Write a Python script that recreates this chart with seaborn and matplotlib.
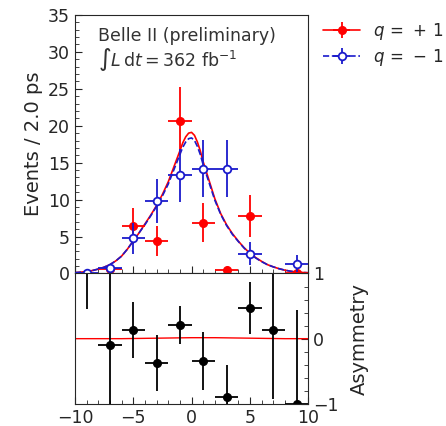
import numpy as np
import pandas as pd
import matplotlib
matplotlib.use("Agg")
import matplotlib.pyplot as plt
import seaborn as sns

# bin centres (2 ps bins)
bins = [-9, -7, -5, -3, -1, 1, 3, 5, 7, 9]

# q = +1 data (nan = no entry drawn)
plus_vals = [np.nan, 0.6, 6.4, 4.4, 20.7, 6.9, 0.45, 7.8, np.nan, 0.0]
plus_errs = [0.0, 0.0, 2.4, 2.0, 4.5, 2.7, 0.0, 2.8, 0.0, 0.0]

# q = -1 data
minus_vals = [0.0, 0.8, 4.8, 9.8, 13.3, 14.2, 14.2, 2.7, np.nan, 1.35]
minus_errs = [0.0, 0.0, 2.1, 3.0, 3.6, 3.9, 3.9, 1.6, 0.0, 1.1]

# fit curves
fit_t = [-10, -9.5, -9, -8.5, -8, -7.5, -7, -6.5, -6, -5.5, -5, -4.5, -4, -3.5,
         -3, -2.5, -2, -1.5, -1, -0.75, -0.5, -0.25, 0, 0.25, 0.5, 0.75, 1, 1.5, 2, 2.5,
         3, 3.5, 4, 4.5, 5, 5.5, 6, 6.5, 7, 7.5, 8, 8.5, 9, 9.5, 10]
fit_plus = [0.12, 0.18, 0.27, 0.4, 0.6, 0.85, 1.2, 1.7, 2.35, 3.3, 4.4, 5.5, 6.7, 7.9,
            9.2, 10.7, 12.4, 14.5, 16.6, 17.7, 18.5, 19.0, 19.1, 18.7, 17.8, 16.6, 15.1, 12.6, 10.1, 8.1,
            6.6, 5.4, 4.4, 3.5, 2.75, 2.15, 1.65, 1.2, 0.9, 0.65, 0.45, 0.3, 0.2, 0.14, 0.1]
fit_minus = [0.12, 0.18, 0.27, 0.4, 0.6, 0.85, 1.2, 1.7, 2.35, 3.3, 4.4, 5.5, 6.6, 7.8,
             9.1, 10.5, 12.1, 14.1, 16.1, 17.1, 17.8, 18.25, 18.35, 18.0, 17.2, 16.1, 14.7, 12.3, 9.9, 8.0,
             6.5, 5.3, 4.35, 3.45, 2.7, 2.1, 1.6, 1.2, 0.9, 0.65, 0.45, 0.3, 0.2, 0.14, 0.1]

# asymmetry
asym_vals = [1.1, -0.1, 0.13, -0.38, 0.21, -0.34, -0.9, 0.47, 0.13, -1.0]
asym_errs = [0.65, 1.3, 0.43, 0.43, 0.29, 0.44, 0.5, 0.4, 1.05, 1.44]
asym_t = [-10, -8, -6, -4, -2, 0, 2, 4, 6, 8, 10]
asym_fit = [0.0, 0.0, 0.0, 0.005, 0.01, 0.015, 0.015, 0.01, 0.005, 0.0, 0.0]

RED = "#ff0000"
BLUE = "#1a1acc"

sns.set_style("ticks")
plt.rcParams["font.family"] = ["DejaVu Sans"]
plt.rcParams["xtick.direction"] = "in"
plt.rcParams["ytick.direction"] = "in"

fig = plt.figure(figsize=(4.46, 4.26), dpi=100)
ax = fig.add_axes([0.168, 0.358, 0.523, 0.607])
ax2 = fig.add_axes([0.168, 0.052, 0.523, 0.306], sharex=ax)

fit_df = pd.DataFrame({"t": fit_t, "plus": fit_plus, "minus": fit_minus})
sns.lineplot(data=fit_df, x="t", y="plus", ax=ax, color=RED, lw=1.2)
sns.lineplot(data=fit_df, x="t", y="minus", ax=ax, color=BLUE, lw=1.2, linestyle="--")
l_plus = ax.lines[0]
l_minus = ax.lines[1]

eb_plus = ax.errorbar(bins, plus_vals, xerr=1, yerr=plus_errs, fmt="o", color=RED,
                      ms=5.5, elinewidth=1.3, capsize=0, zorder=3)
eb_minus = ax.errorbar(bins, minus_vals, xerr=1, yerr=minus_errs, fmt="o", color=BLUE,
                       mfc="white", mec=BLUE, mew=1.3, ms=5.5, elinewidth=1.3, capsize=0, zorder=4)

ax.set_xlim(-10, 10)
ax.set_ylim(0, 35)
ax.set_yticks(range(0, 36, 5))
ax.set_yticks(range(0, 36, 1), minor=True)
ax.set_xticks(range(-10, 11, 5))
ax.set_xticks(range(-10, 11, 1), minor=True)
ax.tick_params(axis="x", labelbottom=False, length=5)
ax.tick_params(axis="x", which="minor", length=3)
ax.tick_params(axis="y", labelsize=12.5, length=5)
ax.tick_params(axis="y", which="minor", length=3)
ax.set_xlabel("")
ax.set_ylabel("Events / 2.0 ps", fontsize=14)

ax.text(0.1, 0.955, "Belle II (preliminary)", transform=ax.transAxes,
        fontsize=12.5, va="top", color="#333333")
ax.text(0.1, 0.878, r"$\int L\,\mathrm{d}t = 362\ \mathrm{fb}^{-1}$", transform=ax.transAxes,
        fontsize=12.5, va="top", color="#333333")

ax.legend(handles=[(l_plus, eb_plus), (l_minus, eb_minus)],
          labels=[r"$q\,=\,+\,1$", r"$q\,=\,-\,1$"], loc="upper left",
          bbox_to_anchor=(1.0, 1.035), frameon=False, fontsize=12,
          handlelength=2.2, handletextpad=0.8, labelspacing=0.3)

asym_df = pd.DataFrame({"t": asym_t, "a": asym_fit})
sns.lineplot(data=asym_df, x="t", y="a", ax=ax2, color=RED, lw=1.0)
ax2.errorbar(bins, asym_vals, xerr=1, yerr=asym_errs, fmt="o", color="black",
             ms=5.5, elinewidth=1.3, capsize=0)
ax2.set_ylim(-1, 1)
ax2.set_xlim(-10, 10)
ax2.yaxis.tick_right()
ax2.yaxis.set_label_position("right")
ax2.set_yticks([-1, 0, 1])
ax2.set_yticks(np.arange(-1, 1.01, 0.2), minor=True)
ax2.tick_params(axis="y", labelsize=12.5, length=5)
ax2.tick_params(axis="y", which="minor", length=3)
ax2.tick_params(axis="x", labelsize=12.5, length=5)
ax2.tick_params(axis="x", which="minor", length=3)
ax2.set_ylabel("Asymmetry", fontsize=14, labelpad=8)
ax2.set_xlabel("")

fig.savefig("out.png", dpi=100)
